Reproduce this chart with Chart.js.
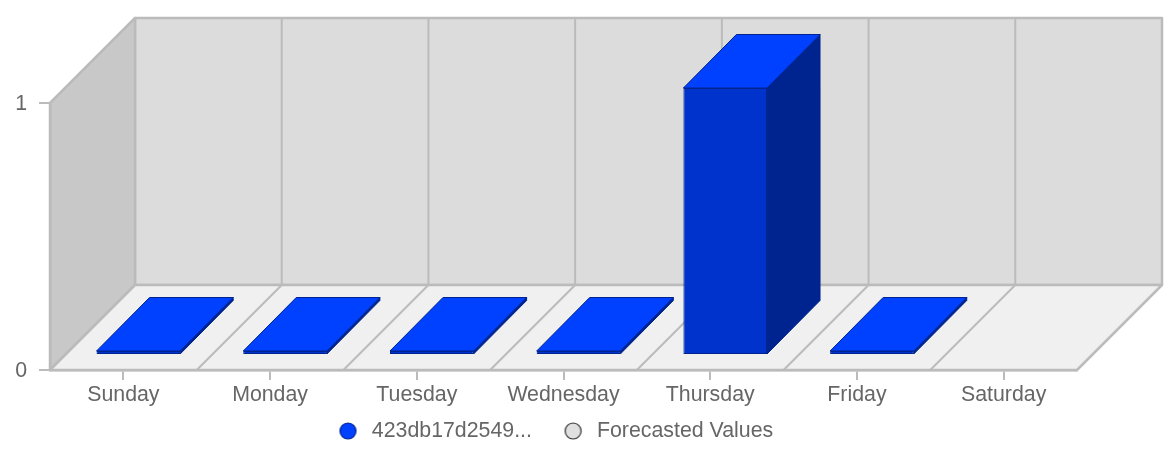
<!DOCTYPE html>
<html>
<head>
<meta charset="utf-8">
<style>
  html, body { margin: 0; padding: 0; background: #fff; }
  #wrap { position: relative; width: 1167px; height: 454px; }
</style>
<script src="https://cdn.jsdelivr.net/npm/chart.js@4"></script>
</head>
<body>
<div id="wrap"><canvas id="chart" width="1167" height="454"></canvas></div>
<script>
// Weekly counts per day
const days = ['Sunday', 'Monday', 'Tuesday', 'Wednesday', 'Thursday', 'Friday', 'Saturday'];
const deviceValues = [0, 0, 0, 0, 1, 0, null];
const forecastValues = [null, null, null, null, null, null, null];
const seriesNames = ['423db17d2549...', 'Forecasted Values'];

// Extruded box look
const WALL_DEPTH = 85;
const BAR_DEPTH_X = 53;
const BAR_DEPTH_Y = 53.5;
const BAR_SHIFT_X = 15;
const BAR_SHIFT_Y = -15;

// Legend placement, below the axis labels
const LEGEND_SHIFT_X = 18;
const LEGEND_TEXT_MIDDLE = 431;

const FRONT_COLOR = '#0033cc';
const TOP_COLOR = '#0040ff';
const SIDE_COLOR = '#00248f';
const EDGE_COLOR = '#00248f';
const LINE_COLOR = '#bbbbbb';
const TEXT_COLOR = '#666666';
const FONT = { family: '"Liberation Sans", Arial, sans-serif', size: 21.33 };

function poly(ctx, pts, fill, stroke, width) {
  ctx.beginPath();
  pts.forEach((p, i) => (i ? ctx.lineTo(p[0], p[1]) : ctx.moveTo(p[0], p[1])));
  ctx.closePath();
  if (fill) { ctx.fillStyle = fill; ctx.fill(); }
  if (stroke) { ctx.strokeStyle = stroke; ctx.lineWidth = width; ctx.stroke(); }
}

// Legend marker: a ringed dot drawn slightly left of its box centre
function legendDot(fill, stroke) {
  const c = document.createElement('canvas');
  c.width = 30; c.height = 22;
  const g = c.getContext('2d');
  g.beginPath();
  g.arc(12.5, 11, 8, 0, Math.PI * 2);
  g.fillStyle = fill; g.fill();
  g.lineWidth = 1.2; g.strokeStyle = stroke; g.stroke();
  return c;
}

// Room behind the bars: side wall, back wall, floor and day dividers
const roomPlugin = {
  id: 'room',
  afterLayout(chart) {
    const lg = chart.legend;
    const pad = lg.options.labels.padding;
    const h = lg.bottom - lg.top;
    lg.left += LEGEND_SHIFT_X;
    lg.right += LEGEND_SHIFT_X;
    lg.top = LEGEND_TEXT_MIDDLE - pad - FONT.size / 2;
    lg.bottom = lg.top + h;
  },
  beforeDraw(chart) {
    const { ctx, chartArea: a, scales: { y } } = chart;
    const d = WALL_DEPTH;
    const top = y.getPixelForValue(1);
    const floor = y.getPixelForValue(0);
    const step = (a.right - a.left) / days.length;
    ctx.save();
    ctx.lineJoin = 'round';
    poly(ctx, [[a.left + d, top - d], [a.right + d, top - d], [a.right + d, floor - d], [a.left + d, floor - d]], '#dcdcdc', LINE_COLOR, 2.5);
    poly(ctx, [[a.left, top], [a.left + d, top - d], [a.left + d, floor - d], [a.left, floor]], '#c8c8c8', LINE_COLOR, 2.5);
    poly(ctx, [[a.left, floor], [a.left + d, floor - d], [a.right + d, floor - d], [a.right, floor]], '#f0f0f0', LINE_COLOR, 2.5);
    ctx.strokeStyle = LINE_COLOR;
    ctx.lineWidth = 2;
    for (let i = 1; i < days.length; i++) {
      const fx = a.left + step * i;
      ctx.beginPath();
      ctx.moveTo(fx, floor);
      ctx.lineTo(fx + d, floor - d);
      ctx.lineTo(fx + d, top - d);
      ctx.stroke();
    }
    ctx.restore();
  },
  // Top and side faces, then shift the context so the library's bars form the front faces
  beforeDatasetsDraw(chart) {
    const { ctx } = chart;
    ctx.save();
    ctx.translate(BAR_SHIFT_X, BAR_SHIFT_Y);
    const dx = BAR_DEPTH_X, dy = BAR_DEPTH_Y;
    chart.getDatasetMeta(0).data.forEach((el, i) => {
      if (deviceValues[i] === null) return;
      const { x, y, base, width } = el.getProps(['x', 'y', 'base', 'width'], true);
      const l = x - width / 2, r = x + width / 2;
      ctx.lineJoin = 'round';
      poly(ctx, [[r, y], [r + dx, y - dy], [r + dx, base - dy], [r, base]], SIDE_COLOR, EDGE_COLOR, 1);
      poly(ctx, [[l, y], [l + dx, y - dy], [r + dx, y - dy], [r, y]], TOP_COLOR, EDGE_COLOR, 1);
    });
  },
  afterDatasetsDraw(chart) {
    chart.ctx.restore();
  }
};

new Chart(document.getElementById('chart'), {
  type: 'bar',
  data: {
    labels: days,
    datasets: [
      { label: seriesNames[0], data: deviceValues, backgroundColor: FRONT_COLOR, borderColor: EDGE_COLOR, borderWidth: 1, borderSkipped: false, minBarLength: 4, clip: false },
      { label: seriesNames[1], data: forecastValues, backgroundColor: '#e0e0e0', borderColor: '#333333', borderWidth: 1, clip: false }
    ]
  },
  plugins: [roomPlugin],
  options: {
    responsive: false,
    animation: false,
    layout: { padding: { top: 103, right: 90, left: 0, bottom: -18.33 } },
    datasets: { bar: { grouped: false, categoryPercentage: 1, barPercentage: 0.57 } },
    scales: {
      x: {
        afterFit(s) { s.height = 38; },
        grid: { offset: false, drawOnChartArea: false, color: LINE_COLOR, lineWidth: 2, tickLength: 10 },
        border: { color: LINE_COLOR, width: 2.5 },
        ticks: { color: TEXT_COLOR, font: FONT, padding: 2, maxRotation: 0 }
      },
      y: {
        min: 0,
        max: 1,
        afterFit(s) { s.width = 50; },
        grid: { drawOnChartArea: false, color: LINE_COLOR, lineWidth: 2, tickLength: 11 },
        border: { color: LINE_COLOR, width: 2.5 },
        ticks: { color: TEXT_COLOR, font: FONT, stepSize: 1, padding: 12, labelOffset: 1 }
      }
    },
    plugins: {
      tooltip: { enabled: false },
      legend: {
        position: 'bottom',
        labels: {
          usePointStyle: true,
          boxHeight: 11,
          padding: 33,
          color: TEXT_COLOR,
          font: FONT,
          generateLabels() {
            return [
              { text: seriesNames[0], pointStyle: legendDot('#0040ff', '#00248f'), fontColor: TEXT_COLOR, datasetIndex: 0 },
              { text: seriesNames[1], pointStyle: legendDot('#e0e0e0', '#333333'), fontColor: TEXT_COLOR, datasetIndex: 1 }
            ];
          }
        }
      }
    }
  }
});
</script>
</body>
</html>
